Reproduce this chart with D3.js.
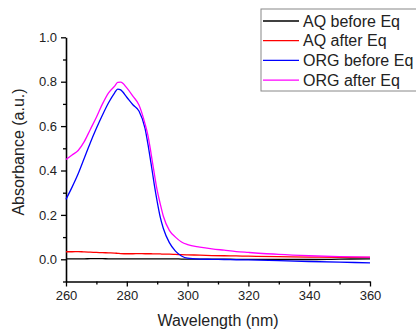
<!DOCTYPE html>
<html>
<head>
<meta charset="utf-8">
<script src="https://cdn.jsdelivr.net/npm/d3@7"></script>
<style>
  body { margin: 0; background: #fff; }
  text { font-family: "Liberation Sans", Arial, sans-serif; fill: #222; }
</style>
</head>
<body>
<svg id="chart" width="416" height="329"></svg>
<script>
const wavelengths = [260, 262, 264, 266, 268, 270, 272, 274, 276, 277, 278, 280, 282, 284, 286, 287, 288, 289, 290, 291, 292, 294, 296, 298, 300, 304, 308, 312, 316, 320, 330, 340, 350, 360];
const aqBefore = [0.002, 0.002, 0.002, 0.002, 0.003, 0.003, 0.003, 0.002, 0.002, 0.002, 0.002, 0.002, 0.002, 0.002, 0.002, 0.002, 0.002, 0.002, 0.002, 0.002, 0.002, 0.002, 0.002, 0.001, 0.001, 0.001, 0.001, 0.001, 0.0, 0.0, -0.001, -0.001, 0.001, 0.002];
const aqAfter = [0.034, 0.034, 0.035, 0.033, 0.032, 0.031, 0.030, 0.029, 0.028, 0.027, 0.026, 0.025, 0.025, 0.026, 0.025, 0.025, 0.025, 0.024, 0.024, 0.024, 0.023, 0.023, 0.022, 0.021, 0.020, 0.019, 0.017, 0.016, 0.015, 0.014, 0.012, 0.010, 0.009, 0.009];
const orgBefore = [0.27, 0.325, 0.385, 0.455, 0.525, 0.59, 0.65, 0.705, 0.75, 0.767, 0.763, 0.73, 0.696, 0.668, 0.59, 0.515, 0.43, 0.34, 0.26, 0.19, 0.14, 0.075, 0.037, 0.015, 0.005, 0.001, 0.0, -0.001, -0.002, -0.003, -0.006, -0.010, -0.013, -0.016];
const orgAfter = [0.45, 0.47, 0.49, 0.53, 0.585, 0.64, 0.70, 0.75, 0.78, 0.797, 0.798, 0.772, 0.735, 0.695, 0.61, 0.555, 0.475, 0.39, 0.31, 0.25, 0.195, 0.13, 0.10, 0.078, 0.066, 0.055, 0.047, 0.041, 0.035, 0.031, 0.022, 0.016, 0.012, 0.010];

const seriesNames = ["AQ before Eq", "AQ after Eq", "ORG before Eq", "ORG after Eq"];
const seriesValues = [aqBefore, aqAfter, orgBefore, orgAfter];
const seriesColors = ["#000000", "#ff0000", "#0000ff", "#ff00ff"];

const xTicks = [260, 280, 300, 320, 340, 360];
const yTicks = [0.0, 0.2, 0.4, 0.6, 0.8, 1.0];

const svg = d3.select("#chart");

const x = d3.scaleLinear().domain([260, 360]).range([66, 370]);
const y = d3.scaleLinear().domain([-0.1, 1.0]).range([281.5, 37.3]);

// minor ticks
svg.append("g")
  .attr("transform", `translate(0,${y(-0.1)})`)
  .call(d3.axisBottom(x).tickValues(d3.range(270, 360, 20)).tickSize(3).tickFormat(""))
  .call(g => g.select(".domain").remove())
  .call(g => g.selectAll("line").attr("stroke", "#000").attr("stroke-width", 1.3));
svg.append("g")
  .attr("transform", `translate(${x(260)},0)`)
  .call(d3.axisLeft(y).tickValues([-0.1, 0.1, 0.3, 0.5, 0.7, 0.9]).tickSize(3).tickFormat(""))
  .call(g => g.select(".domain").remove())
  .call(g => g.selectAll("line").attr("stroke", "#000").attr("stroke-width", 1.3));

// major axes
const xAxis = svg.append("g")
  .attr("transform", `translate(0,${y(-0.1)})`)
  .call(d3.axisBottom(x).tickValues(xTicks).tickSize(5).tickSizeOuter(0).tickPadding(4));
const yAxis = svg.append("g")
  .attr("transform", `translate(${x(260)},0)`)
  .call(d3.axisLeft(y).tickValues(yTicks).tickSize(5).tickSizeOuter(0).tickPadding(4).tickFormat(d3.format(".1f")));

[xAxis, yAxis].forEach(a => {
  a.select(".domain").attr("stroke", "#000").attr("stroke-width", 1.6);
  a.selectAll(".tick line").attr("stroke", "#000").attr("stroke-width", 1.3);
  a.selectAll(".tick text").attr("font-size", 13).attr("fill", "#222")
    .attr("font-family", "'Liberation Sans', Arial, sans-serif");
});

// axis titles
svg.append("text")
  .attr("x", 218).attr("y", 326)
  .attr("text-anchor", "middle").attr("font-size", 16)
  .text("Wavelength (nm)");
svg.append("text")
  .attr("transform", `translate(24,152) rotate(-90)`)
  .attr("text-anchor", "middle").attr("font-size", 16)
  .text("Absorbance (a.u.)");

// lines
const line = d3.line()
  .x((d, i) => x(wavelengths[i]))
  .y(d => y(d))
  .curve(d3.curveMonotoneX);

svg.append("g")
  .selectAll("path")
  .data(seriesValues)
  .join("path")
  .attr("fill", "none")
  .attr("stroke", (d, i) => seriesColors[i])
  .attr("stroke-width", 1.3)
  .attr("d", d => line(d));

// legend
const legend = svg.append("g");
legend.append("rect")
  .attr("x", 261).attr("y", 9)
  .attr("width", 200).attr("height", 82)
  .attr("fill", "#fff").attr("stroke", "#888").attr("stroke-width", 1);
seriesNames.forEach((name, i) => {
  const ly = 21 + i * 19.7;
  legend.append("line")
    .attr("x1", 263).attr("x2", 299)
    .attr("y1", ly).attr("y2", ly)
    .attr("stroke", seriesColors[i]).attr("stroke-width", 1.3);
  legend.append("text")
    .attr("x", 303).attr("y", ly)
    .attr("dy", "0.35em").attr("font-size", 16)
    .text(name);
});
</script>
</body>
</html>
